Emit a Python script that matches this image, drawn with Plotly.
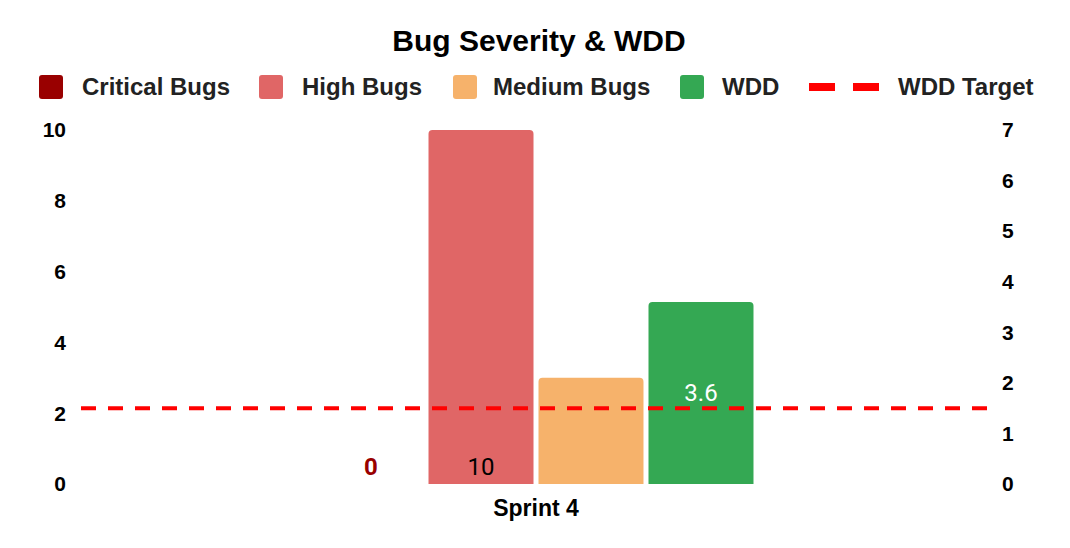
import plotly.graph_objects as go

categories = ["Sprint 4"]
critical_bugs = [0]
high_bugs = [10]
medium_bugs = [3]
wdd = [3.6]
wdd_target = [1.5, 1.5]
target_x = [0, 1]

series_names = ["Critical Bugs", "High Bugs", "Medium Bugs", "WDD", "WDD Target"]
series_colors = ["#990000", "#E06666", "#F6B26B", "#34A853", "#FF0000"]

left_ticks = [0, 2, 4, 6, 8, 10]
right_ticks = [0, 1, 2, 3, 4, 5, 6, 7]

# ---- layout geometry (pixels); page body adds an 8px offset ----
OFF = 8
W, H = 1070 - OFF, 548 - OFF
ML, MR, MT, MB = 81 - OFF, 79, 130 - OFF, 64
PW, PH = W - ML - MR, H - MT - MB


def px_x(px):
    return (px - OFF - ML) / PW


def px_y(py):
    return (H - MB - (py - OFF)) / PH


LABEL_FONT = "Liberation Sans"
VALUE_FONT = "Roboto"

fig = go.Figure()

fig.add_trace(go.Bar(
    x=categories, y=critical_bugs, name=series_names[0],
    marker=dict(color=series_colors[0], line=dict(width=0)),
    offsetgroup="1", showlegend=False,
    text=[str(v) for v in critical_bugs], textposition="outside",
    textfont=dict(color=series_colors[0], size=24, family=VALUE_FONT, weight="bold"),
    cliponaxis=False,
))
fig.add_trace(go.Bar(
    x=categories, y=high_bugs, name=series_names[1],
    marker=dict(color=series_colors[1], line=dict(width=0)),
    offsetgroup="2", showlegend=False,
    text=[str(v) for v in high_bugs], textposition="inside",
    insidetextanchor="start",
    textfont=dict(color="#000000", size=24, family=VALUE_FONT),
))
fig.add_trace(go.Bar(
    x=categories, y=medium_bugs, name=series_names[2],
    marker=dict(color=series_colors[2], line=dict(width=0)),
    offsetgroup="3", showlegend=False,
))
fig.add_trace(go.Bar(
    x=categories, y=wdd, name=series_names[3], yaxis="y2",
    marker=dict(color=series_colors[3], line=dict(width=0)),
    offsetgroup="4", showlegend=False,
    text=[str(v) for v in wdd], textposition="inside",
    insidetextanchor="middle",
    textfont=dict(color="#ffffff", size=24, family=VALUE_FONT),
))
fig.add_trace(go.Scatter(
    x=target_x, y=wdd_target, name=series_names[4], mode="lines",
    xaxis="x2", yaxis="y2", showlegend=False,
    line=dict(color=series_colors[4], width=4, dash="15px,12px"),
))

# ---- custom legend (drawn as shapes + text, to match the reference boxes) ----
legend_sym_left = [39, 259, 453, 680, 809]
legend_text_left = [80, 300, 491, 720, 896]
SYM = 24
LEG_Y = 87
shapes = []
annotations = []
for i, name in enumerate(series_names):
    x0 = legend_sym_left[i]
    if i < 4:
        x1 = x0 + SYM
        y0, y1 = LEG_Y - SYM / 2, LEG_Y + SYM / 2
        r = 3
        pts = dict(
            a=px_x(x0), b=px_x(x0 + r), c=px_x(x1 - r), d=px_x(x1),
            e=px_y(y0), f=px_y(y0 + r), g=px_y(y1 - r), h=px_y(y1),
        )
        path = ("M {b},{e} L {c},{e} Q {d},{e} {d},{f} L {d},{g} Q {d},{h} {c},{h} "
                "L {b},{h} Q {a},{h} {a},{g} L {a},{f} Q {a},{e} {b},{e} Z").format(**pts)
        shapes.append(dict(type="path", xref="paper", yref="paper", path=path,
                           fillcolor=series_colors[i], line=dict(width=0)))
    else:
        shapes.append(dict(type="line", xref="paper", yref="paper",
                           x0=px_x(x0), x1=px_x(x0 + 70), y0=px_y(LEG_Y), y1=px_y(LEG_Y),
                           line=dict(color=series_colors[i], width=8, dash="26px,18px")))
    annotations.append(dict(
        text="<b>" + name + "</b>", xref="paper", yref="paper",
        x=px_x(legend_text_left[i]), y=px_y(LEG_Y), xanchor="left", yanchor="middle",
        showarrow=False, font=dict(family=LABEL_FONT, size=24, color="#222222"),
    ))

fig.update_layout(
    width=W, height=H,
    paper_bgcolor="white", plot_bgcolor="white",
    showlegend=False,
    title=dict(text="<b>Bug Severity & WDD</b>", x=0.5,
               xanchor="center", xref="container", yref="container",
               y=1 - (40 - OFF) / H, yanchor="middle",
               font=dict(family=LABEL_FONT, size=30, color="#000000")),
    barmode="group", bargap=0.5165, bargroupgap=0.0455, barcornerradius=4,
    margin=dict(l=ML, r=MR, t=MT, b=MB, autoexpand=False),
    shapes=shapes, annotations=annotations,
    xaxis=dict(type="category", range=[-0.5, 0.5], showgrid=False, showline=False,
               ticks="", ticklabelstandoff=8,
               tickfont=dict(family=LABEL_FONT, size=23, color="#000000", weight="bold")),
    xaxis2=dict(overlaying="x", range=[0, 1], visible=False),
    yaxis=dict(range=[0, 10], tickvals=left_ticks, showgrid=False, zeroline=False,
               showline=False, ticks="", ticklabelstandoff=14,
               tickfont=dict(family=LABEL_FONT, size=21, color="#000000", weight="bold")),
    yaxis2=dict(range=[0, 7], tickvals=right_ticks, overlaying="y", side="right",
                showgrid=False, zeroline=False, showline=False, ticks="",
                ticklabelstandoff=10,
                tickfont=dict(family=LABEL_FONT, size=21, color="#000000", weight="bold")),
)

fig.write_html("out.html")
